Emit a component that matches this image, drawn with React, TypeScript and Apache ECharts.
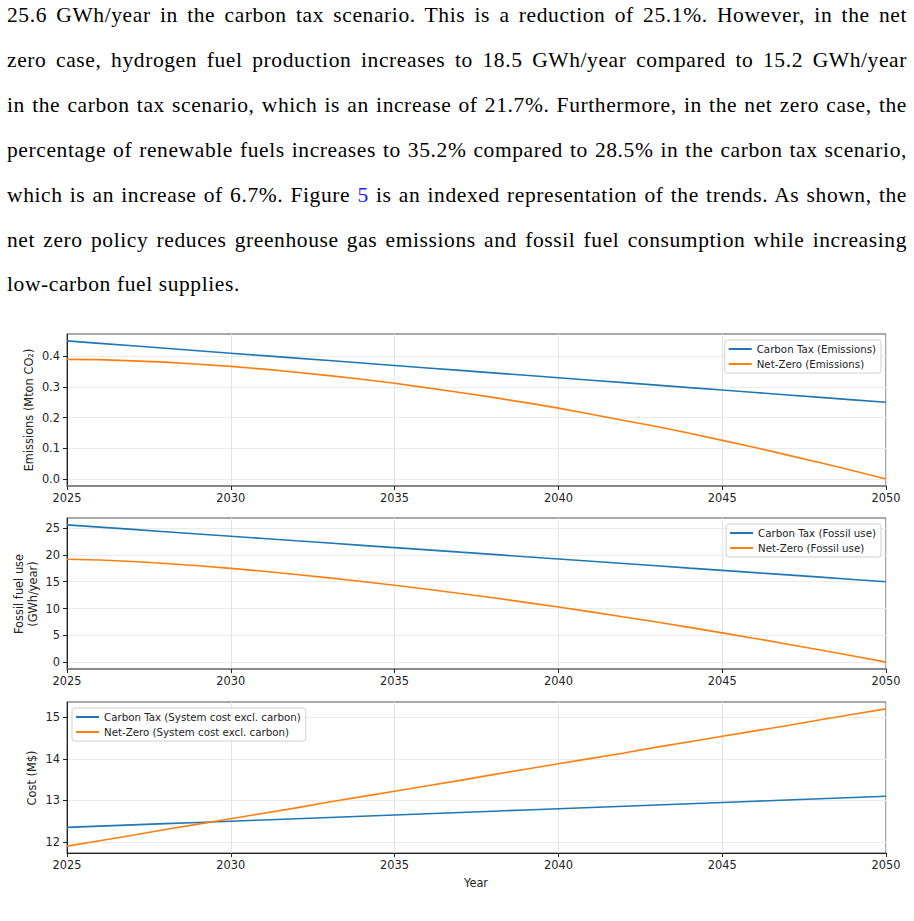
import React, { useEffect, useRef } from "react";
import * as echarts from "echarts";

const years = [2025, 2026, 2027, 2028, 2029, 2030, 2031, 2032, 2033, 2034, 2035, 2036, 2037, 2038, 2039, 2040, 2041, 2042, 2043, 2044, 2045, 2046, 2047, 2048, 2049, 2050];

const carbonTaxEmissions = [0.450, 0.442, 0.434, 0.426, 0.418, 0.410, 0.402, 0.394, 0.386, 0.378, 0.370, 0.362, 0.354, 0.346, 0.338, 0.330, 0.322, 0.314, 0.306, 0.298, 0.290, 0.282, 0.274, 0.266, 0.258, 0.250];
const netZeroEmissions = [0.390, 0.389, 0.385, 0.381, 0.374, 0.367, 0.358, 0.348, 0.337, 0.325, 0.312, 0.297, 0.282, 0.266, 0.249, 0.231, 0.211, 0.191, 0.171, 0.149, 0.126, 0.103, 0.078, 0.053, 0.027, 0.000];

const carbonTaxFossil = [25.60, 25.18, 24.75, 24.33, 23.90, 23.48, 23.06, 22.63, 22.21, 21.78, 21.36, 20.94, 20.51, 20.09, 19.66, 19.24, 18.82, 18.39, 17.97, 17.54, 17.12, 16.70, 16.27, 15.85, 15.42, 15.00];
const netZeroFossil = [19.20, 19.05, 18.77, 18.40, 17.97, 17.48, 16.94, 16.35, 15.72, 15.05, 14.34, 13.60, 12.81, 12.00, 11.15, 10.28, 9.37, 8.43, 7.47, 6.48, 5.46, 4.42, 3.35, 2.26, 1.14, 0.00];

const carbonTaxCost = [12.35, 12.38, 12.41, 12.44, 12.47, 12.50, 12.53, 12.56, 12.59, 12.62, 12.65, 12.68, 12.71, 12.74, 12.77, 12.80, 12.83, 12.86, 12.89, 12.92, 12.95, 12.98, 13.01, 13.04, 13.07, 13.10];
const netZeroCost = [11.90, 12.03, 12.16, 12.30, 12.43, 12.56, 12.69, 12.82, 12.96, 13.09, 13.22, 13.35, 13.48, 13.62, 13.75, 13.88, 14.01, 14.14, 14.28, 14.41, 14.54, 14.67, 14.80, 14.94, 15.07, 15.20];

const emissionTicks = [0, 0.1, 0.2, 0.3, 0.4];
const fossilTicks = [0, 5, 10, 15, 20, 25];
const costTicks = [12, 13, 14, 15];

const seriesNames = [
  "Carbon Tax (Emissions)",
  "Net-Zero (Emissions)",
  "Carbon Tax (Fossil use)",
  "Net-Zero (Fossil use)",
  "Carbon Tax (System cost excl. carbon)",
  "Net-Zero (System cost excl. carbon)",
];

const paragraphLines = [
  "25.6 GWh/year in the carbon tax scenario. This is a reduction of 25.1%. However, in the net",
  "zero case, hydrogen fuel production increases to 18.5 GWh/year compared to 15.2 GWh/year",
  "in the carbon tax scenario, which is an increase of 21.7%. Furthermore, in the net zero case, the",
  "percentage of renewable fuels increases to 35.2% compared to 28.5% in the carbon tax scenario,",
  "which is an increase of 6.7%. Figure 5 is an indexed representation of the trends. As shown, the",
  "net zero policy reduces greenhouse gas emissions and fossil fuel consumption while increasing",
  "low-carbon fuel supplies.",
];

const BLUE = "#1f77b4";
const ORANGE = "#ff7f0e";
const FONT = "DejaVu Sans";

function pairs(vals: number[]) {
  return years.map((y, i) => [y, vals[i]]);
}

export default function App() {
  const ref = useRef<HTMLDivElement>(null);

  useEffect(() => {
    if (!ref.current) return;
    const chart = echarts.init(ref.current, undefined, { renderer: "svg" });

    const grids = [
      { left: 67, top: 334, width: 819, height: 152 },
      { left: 67, top: 518, width: 819, height: 151 },
      { left: 67, top: 702, width: 819, height: 151 },
    ].map((g) => ({ ...g, show: true, borderColor: "#555", borderWidth: 1, backgroundColor: "transparent" }));

    const xAxisBase = (idx: number, lineColor: string, lineWidth: number) => ({
      type: "value",
      gridIndex: idx,
      min: 2025,
      max: 2050,
      interval: 5,
      axisLine: { show: true, onZero: false, lineStyle: { color: lineColor, width: lineWidth } },
      axisTick: { show: true, length: 4, lineStyle: { color: "#222" } },
      axisLabel: { fontFamily: FONT, fontSize: 11.4, color: "#222", margin: 6, formatter: (v: number) => String(v) },
      splitLine: { show: true, lineStyle: { color: "#e4e4e4", width: 1 } },
    });

    const yAxisBase = (idx: number, min: number, max: number, ticks: number[], digits: number) => ({
      type: "value",
      gridIndex: idx,
      min,
      max,
      axisLine: { show: true, onZero: false, lineStyle: { color: "#222", width: 1 } },
      axisTick: { show: true, length: 4, customValues: ticks, lineStyle: { color: "#222" } },
      axisLabel: {
        fontFamily: FONT,
        fontSize: 11.4,
        color: "#222",
        margin: 7,
        customValues: ticks,
        formatter: (v: number) => v.toFixed(digits),
      },
      splitLine: { show: true, lineStyle: { color: "#ebebeb", width: 1 } },
    });

    const mkSeries = (name: string, vals: number[], color: string, idx: number) => ({
      name,
      type: "line",
      xAxisIndex: idx,
      yAxisIndex: idx,
      data: pairs(vals),
      showSymbol: false,
      symbol: "none",
      smooth: false,
      lineStyle: { color, width: 1.6 },
      itemStyle: { color },
      z: 3,
    });

    const legendBase = {
      orient: "vertical",
      icon: "rect",
      itemWidth: 23,
      itemHeight: 2,
      itemGap: 3,
      padding: [3, 5, 3, 4],
      borderColor: "#d0d0d0",
      borderWidth: 1,
      borderRadius: 3,
      backgroundColor: "rgba(255,255,255,0.85)",
      textStyle: { fontFamily: FONT, fontSize: 10.25, color: "#222", lineHeight: 12 },
      selectedMode: false,
    };

    const labelStyle = { fontFamily: FONT, fontSize: 11.4, fill: "#222" };

    chart.setOption({
      animation: false,
      backgroundColor: "#fff",
      grid: grids,
      xAxis: [xAxisBase(0, "#888", 2), xAxisBase(1, "#888", 2), xAxisBase(2, "#222", 1)],
      yAxis: [
        yAxisBase(0, -0.0225, 0.4725, emissionTicks, 1),
        yAxisBase(1, -1.28, 26.88, fossilTicks, 0),
        yAxisBase(2, 11.735, 15.365, costTicks, 0),
      ],
      legend: [
        { ...legendBase, right: 33, top: 340, data: [seriesNames[0], seriesNames[1]] },
        { ...legendBase, right: 33, top: 524, data: [seriesNames[2], seriesNames[3]] },
        { ...legendBase, left: 72, top: 708, data: [seriesNames[4], seriesNames[5]] },
      ],
      series: [
        mkSeries(seriesNames[0], carbonTaxEmissions, BLUE, 0),
        mkSeries(seriesNames[1], netZeroEmissions, ORANGE, 0),
        mkSeries(seriesNames[2], carbonTaxFossil, BLUE, 1),
        mkSeries(seriesNames[3], netZeroFossil, ORANGE, 1),
        mkSeries(seriesNames[4], carbonTaxCost, BLUE, 2),
        mkSeries(seriesNames[5], netZeroCost, ORANGE, 2),
      ],
      graphic: [
        { type: "text", x: 29, y: 410, rotation: Math.PI / 2, style: { ...labelStyle, text: "Emissions (Mton CO₂)", align: "center", verticalAlign: "middle" } },
        { type: "text", x: 19, y: 594, rotation: Math.PI / 2, style: { ...labelStyle, text: "Fossil fuel use", align: "center", verticalAlign: "middle" } },
        { type: "text", x: 33, y: 594, rotation: Math.PI / 2, style: { ...labelStyle, text: "(GWh/year)", align: "center", verticalAlign: "middle" } },
        { type: "text", x: 32, y: 778, rotation: Math.PI / 2, style: { ...labelStyle, text: "Cost (M$)", align: "center", verticalAlign: "middle" } },
        { type: "text", x: 476, y: 883, style: { ...labelStyle, text: "Year", align: "center", verticalAlign: "middle" } },
      ],
    });

    return () => chart.dispose();
  }, []);

  const lineStyleBase: React.CSSProperties = {
    position: "absolute",
    left: 7,
    width: 900,
    height: 22,
    lineHeight: "22px",
    fontFamily: '"Times New Roman", "Liberation Serif", Tinos, "DejaVu Serif", serif',
    fontSize: 21.5,
    letterSpacing: "0.6px",
    color: "#000",
    whiteSpace: "nowrap",
    textAlign: "justify",
    textAlignLast: "justify",
  };

  const renderLine = (text: string, i: number) => {
    const style: React.CSSProperties = {
      ...lineStyleBase,
      top: 4 + i * 44.9,
      ...(i === paragraphLines.length - 1 ? { textAlign: "left", textAlignLast: "left" } : {}),
    };
    if (text.includes("Figure 5 ")) {
      const [a, b] = text.split("Figure 5 ");
      return (
        <div key={i} style={style}>
          {a}Figure <span style={{ color: "#1a1aff" }}>5</span> {b}
        </div>
      );
    }
    return (
      <div key={i} style={style}>
        {text}
      </div>
    );
  };

  return (
    <div style={{ position: "absolute", left: 0, top: 0, width: 914, height: 921, background: "#fff" }}>
      <div ref={ref} style={{ position: "absolute", left: 0, top: 0, width: 914, height: 921 }} />
      {paragraphLines.map(renderLine)}
    </div>
  );
}
